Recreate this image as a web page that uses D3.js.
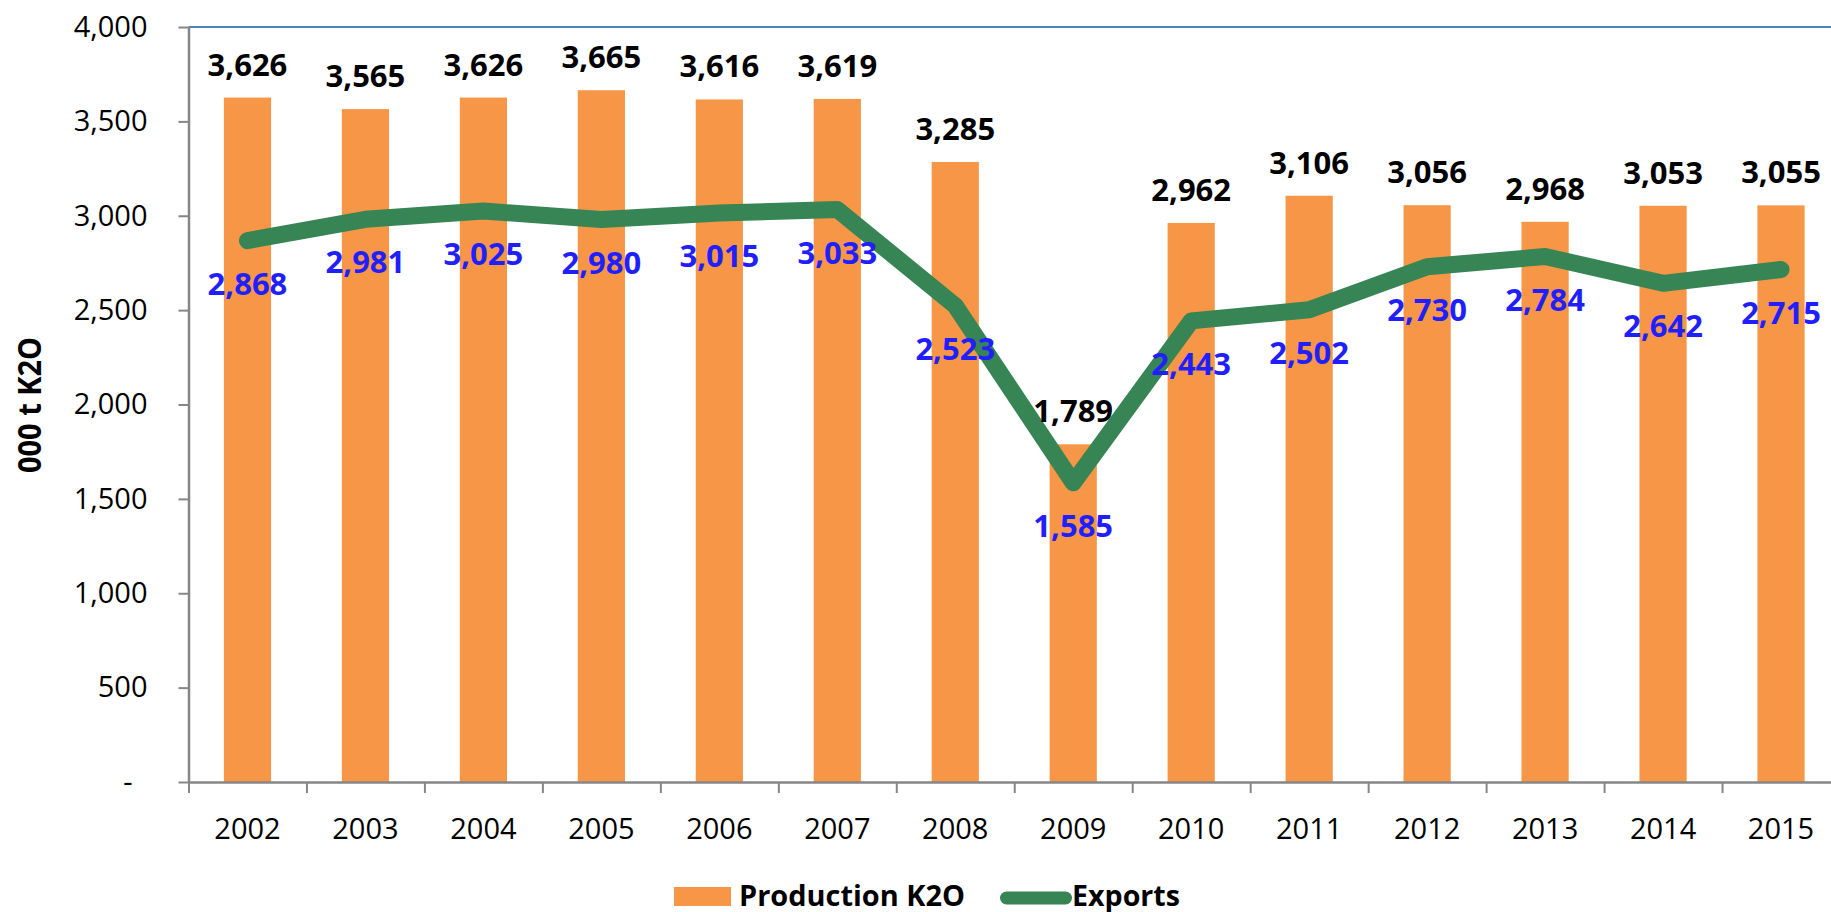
<!DOCTYPE html>
<html>
<head>
<meta charset="utf-8">
<script src="https://cdn.jsdelivr.net/npm/d3@7"></script>
<style>
  html, body { margin: 0; padding: 0; background: #fff; }
  svg { display: block; }
</style>
</head>
<body>
<svg id="chart" width="1831" height="912"></svg>
<script>
const years = ["2002","2003","2004","2005","2006","2007","2008","2009","2010","2011","2012","2013","2014","2015"];
const production = [3626,3565,3626,3665,3616,3619,3285,1789,2962,3106,3056,2968,3053,3055];
const exportsK2O = [2868,2981,3025,2980,3015,3033,2523,1585,2443,2502,2730,2784,2642,2715];
const yTicks = [0,500,1000,1500,2000,2500,3000,3500,4000];

(function () {
const svg = d3.select("#chart");
const pLeft = 188.5, pRight = 1840, pTop = 27, pBottom = 782;
const FONT = "'Open Sans', sans-serif";
const AXIS = "#868686";

const x = d3.scaleBand().domain(years).range([pLeft, pRight]).paddingInner(0.6).paddingOuter(0.3);
const y = d3.scaleLinear().domain([0, 4000]).range([pBottom, pTop]);
const xb = d3.scaleLinear().domain([0, years.length]).range([pLeft, pRight]);

// top line (4000)
svg.append("line")
  .attr("x1", pLeft).attr("x2", 1831)
  .attr("y1", y(4000)).attr("y2", y(4000))
  .attr("stroke", "#4f81bd").attr("stroke-width", 2);

// bars
svg.append("g").selectAll("rect").data(years).join("rect")
  .attr("x", d => x(d))
  .attr("width", x.bandwidth())
  .attr("y", (d, i) => y(production[i]))
  .attr("height", (d, i) => y(0) - y(production[i]))
  .attr("fill", "#f79646");

// y axis
const yAxis = svg.append("g")
  .attr("transform", `translate(${pLeft},0)`)
  .call(d3.axisLeft(y).tickValues(yTicks).tickSize(10).tickSizeOuter(0).tickPadding(31)
    .tickFormat(d => d === 0 ? "-" : d3.format(",")(d)));
yAxis.select(".domain").attr("stroke", AXIS).attr("stroke-width", 2.5);
yAxis.selectAll(".tick line").attr("stroke", AXIS).attr("stroke-width", 2);
yAxis.selectAll(".tick text")
  .attr("font-family", FONT).attr("font-size", 29).attr("fill", "#000");
yAxis.selectAll(".tick").filter(d => d === 0).select("text").attr("x", -56);

// x axis boundary ticks
const xTickAxis = svg.append("g")
  .attr("transform", `translate(0,${pBottom})`)
  .call(d3.axisBottom(xb).tickValues(d3.range(0, years.length + 1)).tickSize(11).tickSizeOuter(0).tickFormat(""));
xTickAxis.select(".domain").attr("stroke", AXIS).attr("stroke-width", 2.5);
xTickAxis.selectAll(".tick line").attr("stroke", AXIS).attr("stroke-width", 2);

// x labels
const xAxis = svg.append("g")
  .attr("transform", `translate(0,${pBottom})`)
  .call(d3.axisBottom(x).tickSize(0).tickPadding(0));
xAxis.select(".domain").remove();
xAxis.selectAll(".tick text")
  .attr("font-family", FONT).attr("font-size", 29).attr("fill", "#000")
  .attr("dy", null).attr("y", 57);

// exports line
const line = d3.line().x((d, i) => x(years[i]) + x.bandwidth() / 2).y(d => y(d));
svg.append("path").datum(exportsK2O)
  .attr("d", line)
  .attr("fill", "none")
  .attr("stroke", "#378455")
  .attr("stroke-width", 17)
  .attr("stroke-linecap", "round")
  .attr("stroke-linejoin", "round");

// production labels
svg.append("g").selectAll("text").data(years).join("text")
  .attr("x", d => x(d) + x.bandwidth() / 2)
  .attr("y", (d, i) => y(production[i]) - 22)
  .attr("text-anchor", "middle")
  .attr("font-family", FONT).attr("font-weight", "bold").attr("font-size", 31)
  .attr("fill", "#000")
  .text((d, i) => d3.format(",")(production[i]));

// exports labels
svg.append("g").selectAll("text").data(years).join("text")
  .attr("x", d => x(d) + x.bandwidth() / 2)
  .attr("y", (d, i) => y(exportsK2O[i]) + 54)
  .attr("text-anchor", "middle")
  .attr("font-family", FONT).attr("font-weight", "bold").attr("font-size", 31)
  .attr("fill", "#1f1fff")
  .text((d, i) => d3.format(",")(exportsK2O[i]));

// y title
svg.append("text")
  .attr("transform", "translate(41,405) rotate(-90)")
  .attr("text-anchor", "middle")
  .attr("font-family", FONT).attr("font-weight", "bold").attr("font-size", 33)
  .attr("textLength", 136).attr("lengthAdjust", "spacingAndGlyphs")
  .text("000 t K2O");

// legend
const lg = svg.append("g");
lg.append("rect").attr("x", 674).attr("y", 887).attr("width", 57).attr("height", 19).attr("fill", "#f79646");
lg.append("text").attr("x", 739).attr("y", 906)
  .attr("font-family", FONT).attr("font-weight", "bold").attr("font-size", 29)
  .attr("textLength", 226).attr("lengthAdjust", "spacingAndGlyphs")
  .text("Production K2O");
lg.append("line").attr("x1", 1006.5).attr("x2", 1065.5).attr("y1", 898).attr("y2", 898)
  .attr("stroke", "#378455").attr("stroke-width", 13).attr("stroke-linecap", "round");
lg.append("text").attr("x", 1072).attr("y", 906)
  .attr("font-family", FONT).attr("font-weight", "bold").attr("font-size", 29)
  .attr("textLength", 108).attr("lengthAdjust", "spacingAndGlyphs")
  .text("Exports");
})();
</script>
</body>
</html>
